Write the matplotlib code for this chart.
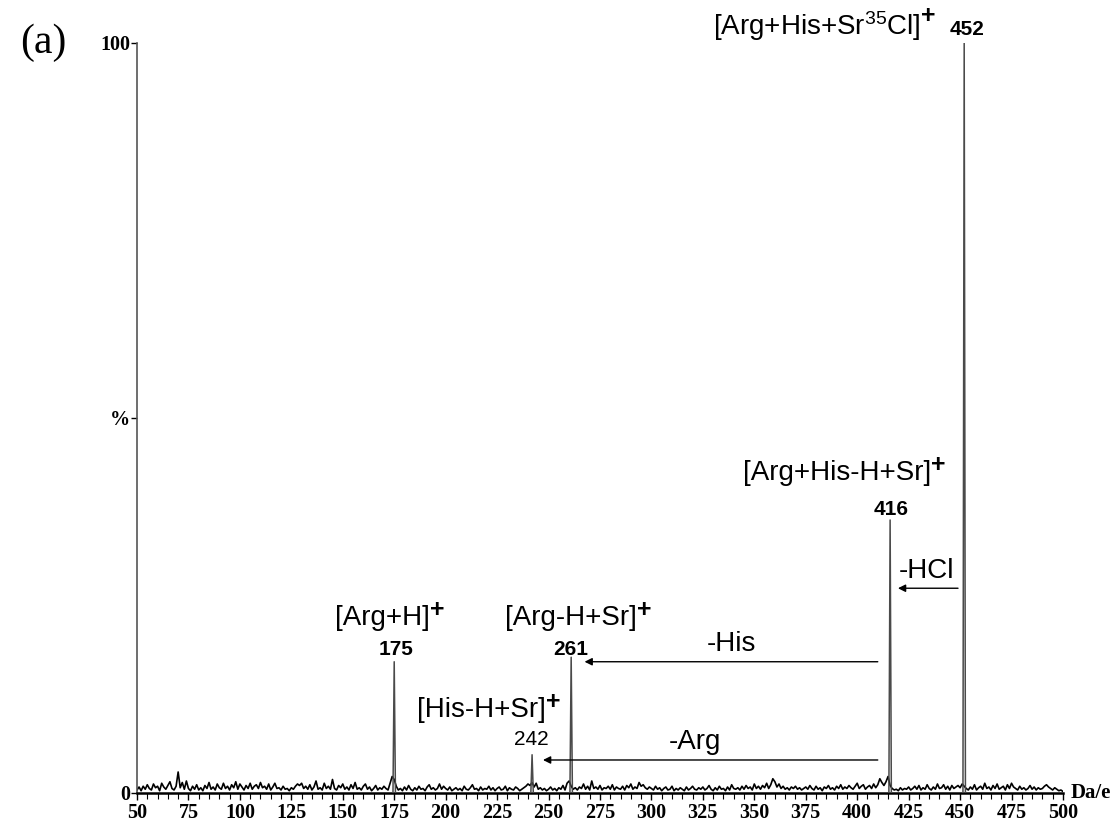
import numpy as np
import matplotlib
matplotlib.use("Agg")
import matplotlib.pyplot as plt
from matplotlib.ticker import MultipleLocator

plt.rcParams["mathtext.fontset"] = "custom"
plt.rcParams["mathtext.rm"] = "Liberation Sans"
plt.rcParams["mathtext.it"] = "Liberation Sans"
plt.rcParams["mathtext.bf"] = "Liberation Sans:bold"

# Main ion peaks (m/z, relative intensity %)
peak_mz = [175, 242, 261, 416, 452]
peak_int = [17.5, 5.1, 18.1, 36.4, 100.0]

# Baseline noise, one reading per Da from m/z 50 to 500
noise_start = 50
noise_int = [
    0.4, 0.8, 0.3, 0.9, 0.5, 1.1, 0.6, 0.4, 1.2, 0.7, 0.9, 0.3, 1.3, 0.8, 0.5, 1.0, 1.5, 0.6, 0.4, 0.9, 2.8, 0.7, 1.4, 0.5, 1.6,
    0.6, 0.3, 0.9, 0.5, 1.1, 0.4, 0.7, 0.3, 1.0, 0.6, 1.4, 0.5, 0.8, 0.4, 1.2, 0.7, 0.5, 1.3, 0.6, 0.9, 0.4, 1.1, 0.7, 1.5, 0.5,
    1.2, 0.8, 0.4, 1.0, 0.6, 1.3, 0.5, 0.9, 1.1, 0.6, 1.4, 0.7, 0.9, 0.5, 1.2, 0.4, 0.8, 1.3, 0.6, 0.7, 0.4, 0.9, 0.5, 0.6, 0.3,
    0.7, 0.5, 0.9, 1.2, 1.0, 1.3, 0.6, 0.9, 0.5, 1.1, 0.4, 0.8, 1.6, 0.5, 0.7, 0.4, 1.3, 0.6, 0.9, 0.5, 1.8, 0.6, 0.4, 1.0, 0.7,
    1.2, 0.5, 0.8, 0.4, 1.1, 0.6, 1.4, 0.5, 0.7, 0.4, 0.9, 1.2, 0.5, 0.8, 0.3, 0.6, 1.0, 0.4, 0.7, 0.5, 0.9, 0.6, 0.4, 1.3, 2.2,
    1.8, 0.9, 0.4, 0.6, 0.3, 0.8, 0.4, 1.0, 0.5, 0.3, 0.7, 0.4, 0.9, 0.5, 0.6, 0.3, 0.8, 1.1, 0.5, 0.7, 0.4, 0.6, 1.2, 0.5, 0.9,
    0.6, 0.4, 0.8, 0.3, 0.5, 0.7, 0.4, 0.6, 0.3, 0.9, 0.5, 0.4, 0.7, 1.1, 0.5, 0.6, 0.3, 0.8, 0.4, 0.6, 0.5, 0.9, 0.4, 0.7, 0.3,
    0.6, 0.8, 0.4, 0.5, 0.9, 0.3, 0.7, 0.5, 0.4, 0.8, 0.6, 0.3, 0.5, 0.7, 0.9, 1.2, 1.0, 1.4, 0.8, 1.3, 0.5, 0.7, 0.4, 0.6, 0.3,
    0.5, 0.8, 0.4, 0.6, 0.3, 0.7, 0.5, 1.0, 0.4, 1.3, 1.6, 0.9, 0.5, 0.7, 0.4, 0.8, 0.6, 1.2, 0.5, 0.9, 0.4, 1.6, 0.6, 0.8, 0.5,
    1.0, 0.4, 0.7, 0.6, 0.9, 0.5, 1.1, 0.4, 0.8, 0.6, 0.5, 0.9, 0.4, 1.0, 0.7, 1.2, 0.5, 0.8, 0.6, 1.4, 0.9, 1.1, 0.7, 0.5, 0.8,
    0.6, 0.4, 0.9, 0.5, 0.7, 0.3, 0.6, 0.8, 0.4, 0.5, 0.9, 0.3, 0.6, 0.4, 0.7, 0.5, 0.3, 0.8, 0.4, 0.6, 0.9, 0.5, 0.4, 0.7, 0.5,
    0.8, 0.4, 0.6, 1.0, 0.5, 0.3, 0.7, 0.4, 0.9, 0.5, 0.6, 0.3, 0.8, 0.4, 1.1, 0.6, 0.5, 0.7, 0.4, 0.9, 0.5, 1.0, 0.6, 0.8, 0.4,
    1.2, 0.6, 0.9, 0.5, 1.0, 0.7, 1.3, 0.6, 1.1, 1.9, 1.5, 0.8, 1.2, 0.6, 0.9, 0.5, 0.7, 0.4, 0.8, 0.6, 0.9, 0.5, 0.7, 0.4, 0.6,
    0.8, 0.5, 1.0, 0.6, 0.4, 0.9, 0.5, 0.7, 0.3, 0.8, 0.6, 1.0, 0.5, 0.7, 0.4, 0.9, 0.6, 1.1, 0.5, 0.8, 0.6, 1.0, 0.7, 0.5, 0.9,
    1.3, 0.6, 0.9, 1.1, 0.5, 0.8, 1.0, 0.6, 1.2, 0.7, 1.1, 1.9, 1.4, 1.0, 1.5, 2.2, 1.0, 0.6, 0.4, 0.5, 0.3, 0.7, 0.4, 0.6, 0.5,
    0.8, 0.4, 0.6, 0.9, 0.5, 1.0, 0.4, 0.7, 0.5, 1.1, 0.6, 0.4, 0.8, 0.5, 1.2, 0.6, 0.7, 1.1, 0.5, 0.9, 0.4, 1.0, 0.6, 0.8, 1.0,
    0.7, 1.2, 0.9, 0.6, 0.4, 0.8, 0.5, 1.1, 0.4, 0.7, 0.9, 0.5, 1.3, 0.6, 0.8, 0.4, 1.0, 0.6, 1.2, 0.5, 0.7, 0.9, 0.4, 1.1, 0.6,
    1.3, 0.8, 0.6, 0.4, 0.9, 0.5, 0.7, 0.4, 0.6, 1.0, 0.5, 0.8, 0.4, 0.7, 0.5, 0.6, 0.9, 1.1, 0.8, 0.6, 0.4, 0.7, 0.5, 0.3, 0.4,
    0.2,
]

x_ticks = [50, 75, 100, 125, 150, 175, 200, 225, 250, 275, 300, 325, 350, 375, 400, 425, 450, 475, 500]
y_ticks = [0, 50, 100]
y_tick_labels = ["0", "%", "100"]

fig = plt.figure(figsize=(11.12, 8.25), dpi=100)
ax = fig.add_axes([0.1232, 0.0388, 0.8327, 0.9091])
ax.set_xlim(50, 500)
ax.set_ylim(0, 100)

# noise trace
noise_mz = np.arange(noise_start, noise_start + len(noise_int))
ax.plot(noise_mz, noise_int, color="black", lw=1.2, zorder=2)

# peaks drawn as narrow profiles
half_w = 0.6
for mz, h in zip(peak_mz, peak_int):
    ax.plot([mz - half_w, mz, mz + half_w], [0, h, 0], color="#4a4a4a", lw=1.1, zorder=3)

# axes styling
for side in ("top", "right"):
    ax.spines[side].set_visible(False)
ax.spines["left"].set_color("#555555")
ax.spines["left"].set_linewidth(1.2)
ax.spines["bottom"].set_color("black")
ax.spines["bottom"].set_linewidth(1.8)

ax.set_xticks(x_ticks)
ax.xaxis.set_minor_locator(MultipleLocator(5))
ax.set_yticks(y_ticks)
ax.set_yticklabels(y_tick_labels)
ax.tick_params(axis="x", which="major", length=5, width=1, direction="out", pad=2)
ax.tick_params(axis="x", which="minor", length=4, width=0.8, direction="out")
ax.tick_params(axis="y", length=4, width=1, direction="out", pad=1)
for lbl in ax.get_xticklabels() + ax.get_yticklabels():
    lbl.set_fontfamily("Liberation Serif")
    lbl.set_fontweight("bold")
    lbl.set_fontsize(14.5)

sans = "Liberation Sans"
big = 20
num = 15


def ion_label(x, y, body, clip=True):
    """Ion formula with a full-size raised charge sign after it."""
    t = ax.text(x, y, body, fontsize=big, family=sans, ha="left", va="baseline",
                clip_on=clip)
    ax.annotate("+", xy=(1.0, 0.80), xycoords=t, fontsize=18, family=sans,
                fontweight="bold", ha="left", va="center", annotation_clip=False)
    return t


# ion labels
ion_label(329.9, 101.0, "[Arg+His+Sr$^{35}$Cl]", clip=False)
ax.text(453.5, 101.0, "452", fontsize=num, family=sans, fontweight="bold",
        ha="center", va="baseline", clip_on=False)

ion_label(344.5, 41.7, "[Arg+His-H+Sr]")
ax.text(416.4, 37.1, "416", fontsize=num, family=sans, fontweight="bold",
        ha="center", va="baseline")

ion_label(146.2, 22.4, "[Arg+H]")
ax.text(175.8, 18.4, "175", fontsize=num, family=sans, fontweight="bold",
        ha="center", va="baseline")

ion_label(228.8, 22.4, "[Arg-H+Sr]")
ax.text(260.9, 18.4, "261", fontsize=num, family=sans, fontweight="bold",
        ha="center", va="baseline")

ion_label(186.0, 10.1, "[His-H+Sr]")
ax.text(241.4, 6.4, "242", fontsize=num, family=sans, ha="center", va="baseline")

# neutral-loss arrows
arrow_kw = dict(arrowstyle="-|>", color="black", lw=1.0, mutation_scale=11,
                shrinkA=0, shrinkB=0)
ax.annotate("", xy=(419.8, 27.3), xytext=(449.0, 27.3), arrowprops=arrow_kw)
ax.text(433.9, 28.7, "-HCl", fontsize=big, family=sans, ha="center", va="baseline")

ax.annotate("", xy=(267.5, 17.5), xytext=(410.0, 17.5), arrowprops=arrow_kw)
ax.text(339.0, 18.9, "-His", fontsize=big, family=sans, ha="center", va="baseline")

ax.annotate("", xy=(247.3, 4.4), xytext=(410.0, 4.4), arrowprops=arrow_kw)
ax.text(321.0, 5.8, "-Arg", fontsize=big, family=sans, ha="center", va="baseline")

# panel tag and axis unit
fig.text(0.018, 0.948, "(a)", fontsize=30, family="Liberation Serif", ha="left", va="center")
fig.text(0.963, 0.033, "Da/e", fontsize=15, family="Liberation Serif", fontweight="bold",
         ha="left", va="baseline")

fig.savefig("out.png", dpi=100)
